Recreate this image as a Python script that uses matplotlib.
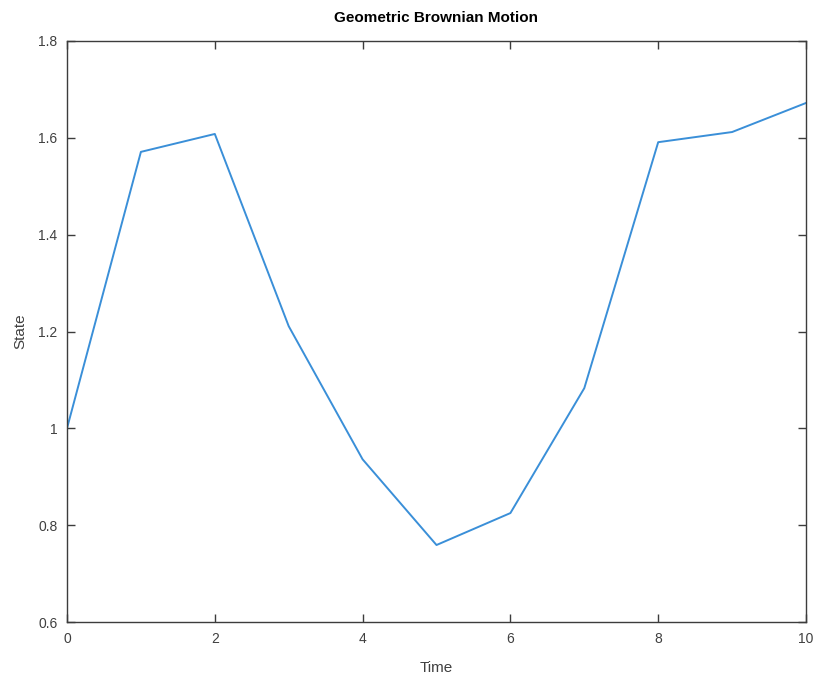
import numpy as np
import matplotlib
matplotlib.use("Agg")
import matplotlib.pyplot as plt

time = [0, 1, 2, 3, 4, 5, 6, 7, 8, 9, 10]
state = [1.0, 1.571, 1.608, 1.211, 0.936, 0.759, 0.825, 1.083, 1.591, 1.612, 1.672]

x_ticks = [0, 2, 4, 6, 8, 10]
y_ticks = [0.6, 0.8, 1.0, 1.2, 1.4, 1.6, 1.8]
y_labels = ["0.6", "0.8", "1", "1.2", "1.4", "1.6", "1.8"]

plt.rcParams["font.family"] = ["Liberation Sans", "DejaVu Sans"]

fig = plt.figure(figsize=(8.16, 6.75), dpi=100)
ax = fig.add_axes([67 / 816, 1 - 622 / 675, (806 - 67) / 816, (622 - 41) / 675])

ax.plot(time, state, color="#3a8fd8", linewidth=1.4)

ax.set_xlim(0, 10)
ax.set_ylim(0.6, 1.8)
ax.set_xticks(x_ticks)
ax.set_yticks(y_ticks)
ax.set_yticklabels(y_labels)

edge = "#3c3c3c"
txt = "#404040"
for s in ax.spines.values():
    s.set_color(edge)
    s.set_linewidth(1.0)
ax.tick_params(direction="in", length=6, width=1, color=edge, labelcolor=txt,
               labelsize=10, top=True, right=True, pad=7)

ax.set_xlabel("Time", fontsize=11, color=txt, labelpad=11)
ax.set_ylabel("State", fontsize=11, color=txt, labelpad=8)
ax.set_title("Geometric Brownian Motion", fontsize=11, fontweight="bold", color="black", pad=14)

fig.savefig("out.png", dpi=100)
